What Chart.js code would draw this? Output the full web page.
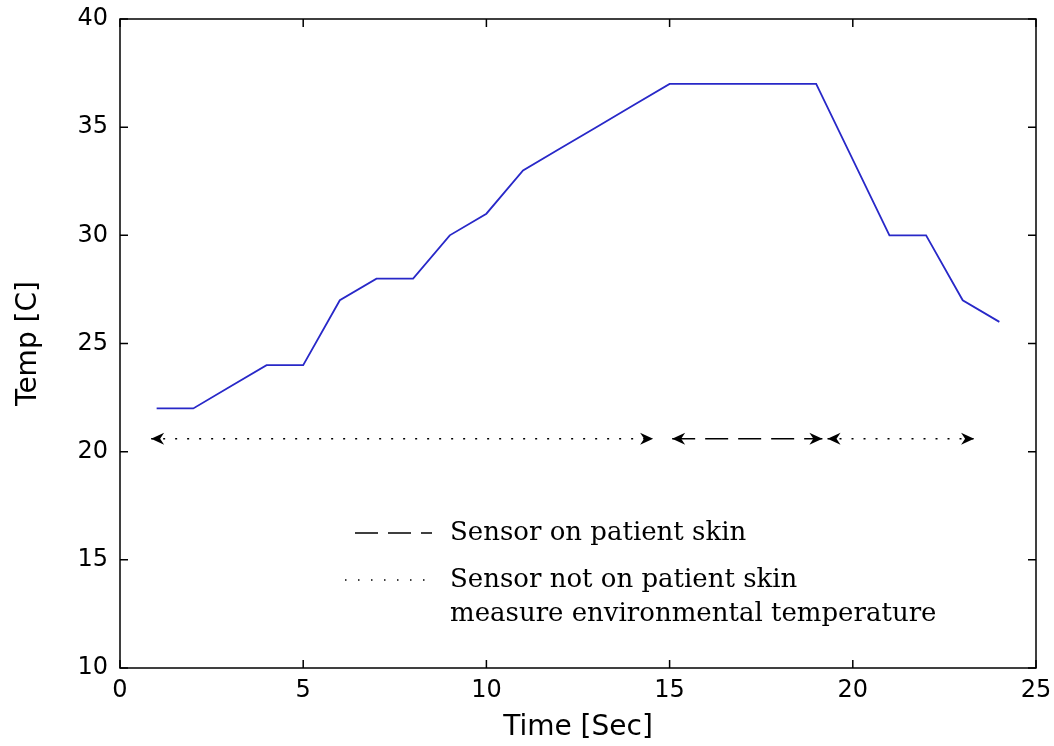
<!DOCTYPE html>
<html>
<head>
<meta charset="utf-8">
<script src="https://cdn.jsdelivr.net/npm/chart.js@4.4.1/dist/chart.umd.min.js"></script>
<style>
  html, body { margin: 0; padding: 0; background: #fff; }
  #wrap { width: 1054px; height: 746px; }
</style>
</head>
<body>
<div id="wrap"><canvas id="temp_chart"></canvas></div>
<script>
// temperature readings, one per second
const times = [1, 2, 3, 4, 5, 6, 7, 8, 9, 10, 11, 12, 13, 14, 15, 16, 17, 18, 19, 20, 21, 22, 23, 24];
const temps = [22, 22, 23, 24, 24, 27, 28, 28, 30, 31, 33, 34, 35, 36, 37, 37, 37, 37, 37, 33.5, 30, 30, 27, 26];

// arrow spans (start / end second) and the level they sit on
const arrowLevel = 20.6;
const offSkinBefore = [0.85, 14.55];
const onSkin = [15.07, 19.17];
const offSkinAfter = [19.31, 23.31];

const xTicks = [0, 5, 10, 15, 20, 25];
const yTicks = [10, 15, 20, 25, 30, 35, 40];

const legendOn = 'Sensor on patient skin';
const legendOff = ['Sensor not on patient skin', 'measure environmental temperature'];

const sans = '"DejaVu Sans", Verdana, sans-serif';
const serif = '"DejaVu Serif", "Liberation Serif", serif';

function span(range) {
    return [{x: range[0], y: arrowLevel}, {x: range[1], y: arrowLevel}];
}

// box round the plot with ticks pointing inward (matlab style)
const boxPlugin = {
    id: 'box',
    afterDatasetsDraw(chart) {
        let ctx = chart.ctx;
        let a = chart.chartArea;
        let xs = chart.scales.x, ys = chart.scales.y;
        let len = 8;
        ctx.save();
        ctx.strokeStyle = '#000';
        ctx.lineWidth = 1.5;
        ctx.strokeRect(a.left, a.top, a.right - a.left, a.bottom - a.top);
        ctx.beginPath();
        xTicks.forEach(v => {
            let px = xs.getPixelForValue(v);
            ctx.moveTo(px, a.bottom); ctx.lineTo(px, a.bottom - len);
            ctx.moveTo(px, a.top); ctx.lineTo(px, a.top + len);
        });
        yTicks.forEach(v => {
            let py = ys.getPixelForValue(v);
            ctx.moveTo(a.left, py); ctx.lineTo(a.left + len, py);
            ctx.moveTo(a.right, py); ctx.lineTo(a.right - len, py);
        });
        ctx.stroke();
        ctx.restore();
    }
};

// arrow heads on both ends of the span datasets
function arrowHead(ctx, x, y, dir) {
    let l = 13, w = 6, n = 4;
    ctx.beginPath();
    ctx.moveTo(x, y);
    ctx.lineTo(x - dir * l, y - w);
    ctx.lineTo(x - dir * (l - n), y);
    ctx.lineTo(x - dir * l, y + w);
    ctx.closePath();
    ctx.fill();
}

const arrowPlugin = {
    id: 'arrows',
    afterDatasetsDraw(chart) {
        let ctx = chart.ctx;
        ctx.save();
        ctx.fillStyle = '#000';
        chart.data.datasets.forEach((ds, i) => {
            if (!ds.arrows) return;
            let pts = chart.getDatasetMeta(i).data;
            let p0 = pts[0], p1 = pts[pts.length - 1];
            arrowHead(ctx, p0.x, p0.y, -1);
            arrowHead(ctx, p1.x, p1.y, 1);
        });
        ctx.restore();
    }
};

// hand drawn legend inside the plot
const notePlugin = {
    id: 'note',
    afterDatasetsDraw(chart) {
        let ctx = chart.ctx;
        let a = chart.chartArea;
        let x0 = a.left + 235, x1 = a.left + 312, tx = a.left + 330;
        let y1 = a.top + 514, y2 = a.top + 561, lh = 34;
        ctx.save();
        ctx.strokeStyle = '#000';
        ctx.lineWidth = 1.5;
        ctx.setLineDash([23, 10]);
        ctx.beginPath(); ctx.moveTo(x0, y1); ctx.lineTo(x1, y1); ctx.stroke();
        ctx.setLineDash([1.5, 11.5]);
        ctx.beginPath(); ctx.moveTo(x0 - 10, y2); ctx.lineTo(x1, y2); ctx.stroke();
        ctx.setLineDash([]);
        ctx.fillStyle = '#000';
        ctx.font = '26px ' + serif;
        ctx.textBaseline = 'middle';
        ctx.fillText(legendOn, tx, y1);
        legendOff.forEach((t, k) => ctx.fillText(t, tx, y2 + k * lh));
        ctx.restore();
    }
};

let config = {
    type: 'line',
    data: {
        datasets: [
            {
                label: 'Temp',
                data: times.map((t, i) => ({x: t, y: temps[i]})),
                borderColor: 'rgb(40, 40, 200)',
                borderWidth: 1.8,
                pointRadius: 0,
                tension: 0
            },
            {
                label: 'off skin (before)',
                data: span(offSkinBefore),
                borderColor: '#000',
                borderWidth: 1.5,
                borderDash: [2, 10],
                pointRadius: 0,
                arrows: true
            },
            {
                label: 'on skin',
                data: span(onSkin),
                borderColor: '#000',
                borderWidth: 1.5,
                borderDash: [23, 10],
                pointRadius: 0,
                arrows: true
            },
            {
                label: 'off skin (after)',
                data: span(offSkinAfter),
                borderColor: '#000',
                borderWidth: 1.5,
                borderDash: [2, 10],
                pointRadius: 0,
                arrows: true
            }
        ]
    },
    options: {
        responsive: true,
        maintainAspectRatio: false,
        animation: false,
        layout: { padding: { top: 19, right: 18, left: 0, bottom: 0 } },
        plugins: { legend: { display: false }, tooltip: { enabled: false } },
        scales: {
            x: {
                type: 'linear',
                min: 0, max: 25,
                afterBuildTicks: s => { s.ticks = xTicks.map(v => ({value: v})); },
                afterFit: s => { s.height = 78; s.paddingLeft = 0; s.paddingRight = 0; },
                grid: { display: false, drawTicks: false },
                border: { display: false },
                ticks: { color: '#000', padding: 8, font: { family: sans, size: 24 } },
                title: { display: true, text: 'Time [Sec]', color: '#000', padding: { top: 0, bottom: 1 }, font: { family: sans, size: 28 } }
            },
            y: {
                type: 'linear',
                min: 10, max: 40,
                afterBuildTicks: s => { s.ticks = yTicks.map(v => ({value: v})); },
                afterFit: s => { s.width = 120; s.paddingTop = 0; s.paddingBottom = 0; },
                grid: { display: false, drawTicks: false },
                border: { display: false },
                ticks: { color: '#000', padding: 12, font: { family: sans, size: 24 } },
                title: { display: true, text: 'Temp [C]', color: '#000', padding: { top: 12, bottom: 0 }, font: { family: sans, size: 28 } }
            }
        }
    },
    plugins: [boxPlugin, arrowPlugin, notePlugin]
};

let temp_chart = new Chart(document.getElementById('temp_chart'), config);
</script>
</body>
</html>
